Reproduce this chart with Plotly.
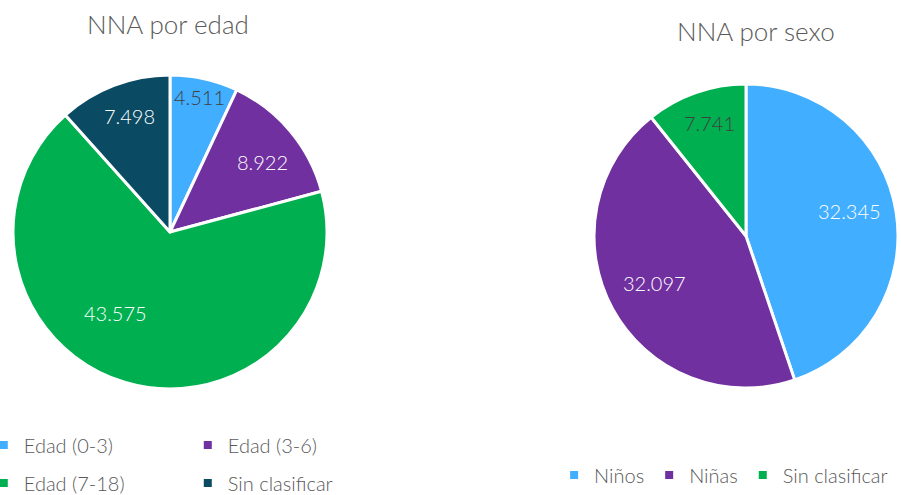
import math
import plotly.graph_objects as go

# ---- data ----
edad_labels = ["Edad (0-3)", "Edad (3-6)", "Edad (7-18)", "Sin clasificar"]
edad_values = [4511, 8922, 43575, 7498]
sexo_labels = ["Niños", "Niñas", "Sin clasificar"]
sexo_values = [32345, 32097, 7741]
titles = ["NNA por edad", "NNA por sexo"]

# ---- style ----
edad_colors = ["#41AEFF", "#7030A0", "#00B050", "#0A4A63"]
sexo_colors = ["#41AEFF", "#7030A0", "#00B050"]
edad_text_colors = ["#404040", "white", "white", "white"]
sexo_text_colors = ["white", "white", "#404040"]
# label placement: radial fraction and angular nudge (deg) from each slice bisector
edad_label_r = [0.868, 0.732, 0.632, 0.771]
edad_label_da = [0.0, 3.9, 17.1, 1.5]
sexo_label_r = [0.70, 0.684, 0.768]
sexo_label_da = [-3.0, 0.5, 1.2]
FONT = "Lato"
GRAY = "#595959"
W, H = 901, 495
edad_domain = dict(x=[0.01443, 0.36293], y=[0.21414, 0.84848])
sexo_domain = dict(x=[0.65927, 0.99667], y=[0.21616, 0.83030])

fig = go.Figure()

for labels, values, colors, dom in [(edad_labels, edad_values, edad_colors, edad_domain),
                                    (sexo_labels, sexo_values, sexo_colors, sexo_domain)]:
    fig.add_trace(go.Pie(
        labels=labels, values=values, sort=False, direction="clockwise",
        rotation=0, marker=dict(colors=colors, line=dict(color="white", width=3)),
        textinfo="none", domain=dom, showlegend=False, hoverinfo="label+value",
    ))


def value_labels(values, dom, fracs, nudges, colors):
    cx = (dom["x"][0] + dom["x"][1]) / 2
    cy = (dom["y"][0] + dom["y"][1]) / 2
    r_px = min((dom["x"][1] - dom["x"][0]) * W, (dom["y"][1] - dom["y"][0]) * H) / 2
    total = sum(values)
    cum = 0
    out = []
    for v, f, da, c in zip(values, fracs, nudges, colors):
        mid = (cum + v / 2) / total * 360 + da
        cum += v
        a = math.radians(mid)
        x = cx + f * r_px * math.sin(a) / W
        y = cy + f * r_px * math.cos(a) / H + 2 / H
        out.append(dict(text=f"{v:,}".replace(",", "."), x=x, y=y, xref="paper", yref="paper",
                        xanchor="center", yanchor="middle", showarrow=False,
                        font=dict(family=FONT, size=20, color=c, weight=300)))
    return out


annotations = value_labels(edad_values, edad_domain, edad_label_r, edad_label_da, edad_text_colors)
annotations += value_labels(sexo_values, sexo_domain, sexo_label_r, sexo_label_da, sexo_text_colors)
annotations += [
    dict(text=titles[0], x=0.1865, y=0.9516, xref="paper", yref="paper",
         xanchor="center", yanchor="middle", showarrow=False,
         font=dict(family=FONT, size=26, color=GRAY, weight=300)),
    dict(text=titles[1], x=0.839, y=0.937, xref="paper", yref="paper",
         xanchor="center", yanchor="middle", showarrow=False,
         font=dict(family=FONT, size=26, color=GRAY, weight=300)),
]

# legend entries (marker-only helper traces)
edad_legends = ["legend", "legend", "legend2", "legend2"]
for lab, col, lg in zip(edad_labels, edad_colors, edad_legends):
    fig.add_trace(go.Scatter(x=[None], y=[None], mode="markers", name=lab,
                             marker=dict(symbol="square", size=8, color=col),
                             legend=lg, showlegend=True, hoverinfo="skip"))
for lab, col in zip(sexo_labels, sexo_colors):
    fig.add_trace(go.Scatter(x=[None], y=[None], mode="markers", name=lab,
                             marker=dict(symbol="square", size=8, color=col),
                             legend="legend3", showlegend=True, hoverinfo="skip"))

legfont = dict(family=FONT, size=20, color=GRAY, weight=300)
common = dict(orientation="h", font=legfont, bgcolor="rgba(0,0,0,0)",
              xanchor="left", yanchor="middle", itemsizing="trace")

fig.update_layout(
    width=W, height=H,
    margin=dict(l=0, r=0, t=0, b=0, autoexpand=False),
    paper_bgcolor="white", plot_bgcolor="white",
    xaxis=dict(visible=False), yaxis=dict(visible=False),
    legend=dict(x=-0.018, y=0.101, entrywidth=159, **common),
    legend2=dict(x=-0.018, y=0.024, entrywidth=159, **common),
    legend3=dict(x=0.615, y=0.0404, **common),
    annotations=annotations,
)

fig.write_html("out.html", config={"displayModeBar": False},
               post_script="document.body.style.margin='0';document.body.style.overflow='hidden';")
